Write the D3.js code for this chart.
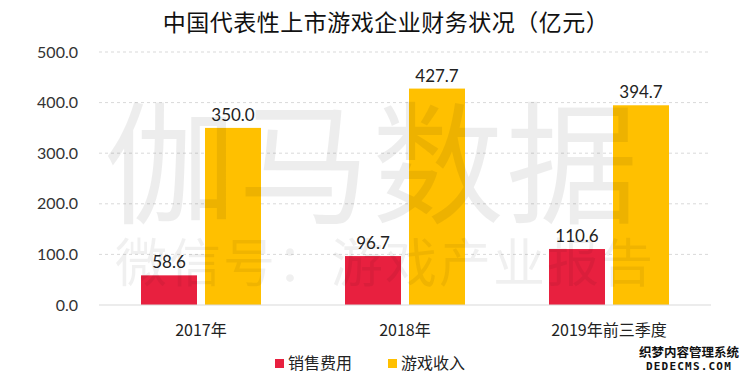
<!DOCTYPE html>
<html>
<head>
<meta charset="utf-8">
<script src="https://cdn.jsdelivr.net/npm/d3@7/dist/d3.min.js"></script>
<style>
  html, body { margin: 0; padding: 0; background: #fff; }
  svg { display: block; }
</style>
</head>
<body>
<svg id="chart" width="750" height="379"></svg>
<script>
const title = "中国代表性上市游戏企业财务状况（亿元）";
const categories = ["2017年", "2018年", "2019年前三季度"];
const seriesNames = ["销售费用", "游戏收入"];
const salesExpense = [58.6, 96.7, 110.6];
const gameRevenue = [350.0, 427.7, 394.7];
const yTicks = [0, 100, 200, 300, 400, 500];
const colors = ["#e8203f", "#ffc000"];

const svg = d3.select("#chart");
const plot = { left: 99, right: 711, top: 52, bottom: 305 };
const numFont = "Lato, 'Noto Sans CJK SC', sans-serif";
const cjkFont = "'Noto Sans CJK SC', 'Microsoft YaHei', sans-serif";

const x0 = d3.scaleBand().domain(categories).range([plot.left, plot.right]).padding(0);
const x1 = d3.scaleBand().domain(seriesNames).range([42, 162]).paddingInner(0.125).paddingOuter(0);
const y = d3.scaleLinear().domain([0, 500]).range([plot.bottom, plot.top]);

// title
svg.append("text")
  .attr("x", 386).attr("y", 31)
  .attr("text-anchor", "middle")
  .attr("font-family", cjkFont)
  .attr("font-size", 23)
  .attr("letter-spacing", 0.5)
  .attr("fill", "#111")
  .text(title);

// y axis labels
const yAxis = d3.axisLeft(y).tickValues(yTicks).tickFormat(d3.format(".1f")).tickSize(0).tickPadding(21);
const gAxis = svg.append("g").attr("transform", `translate(${plot.left},0)`).call(yAxis);
gAxis.select(".domain").remove();
gAxis.selectAll("text")
  .attr("font-family", numFont)
  .attr("font-size", 16)
  .attr("fill", "#333");

// gridlines
svg.append("g").selectAll("line")
  .data(yTicks.filter(d => d > 0))
  .join("line")
  .attr("x1", plot.left).attr("x2", plot.right)
  .attr("y1", d => y(d)).attr("y2", d => y(d))
  .attr("stroke", "#d9d9d9")
  .attr("stroke-width", 1)
  .attr("stroke-dasharray", "3,3");

// bars
const rows = categories.map((c, i) => ({ cat: c, vals: [salesExpense[i], gameRevenue[i]] }));
const groups = svg.append("g").selectAll("g")
  .data(rows)
  .join("g")
  .attr("transform", d => `translate(${x0(d.cat)},0)`);

groups.selectAll("rect")
  .data(d => d.vals.map((v, j) => ({ name: seriesNames[j], v, j })))
  .join("rect")
  .attr("x", d => x1(d.name))
  .attr("width", x1.bandwidth())
  .attr("y", d => y(d.v))
  .attr("height", d => y(0) - y(d.v))
  .attr("fill", d => colors[d.j]);

groups.selectAll("text.val")
  .data(d => d.vals.map((v, j) => ({ name: seriesNames[j], v, j })))
  .join("text")
  .attr("class", "val")
  .attr("x", d => x1(d.name) + x1.bandwidth() / 2)
  .attr("y", d => y(d.v) - 7)
  .attr("text-anchor", "middle")
  .attr("font-family", numFont)
  .attr("font-size", 17)
  .attr("fill", "#222")
  .text(d => d3.format(".1f")(d.v));

// baseline
svg.append("line")
  .attr("x1", plot.left).attr("x2", plot.right)
  .attr("y1", y(0)).attr("y2", y(0))
  .attr("stroke", "#d9d9d9").attr("stroke-width", 1);

// category labels
const xAxis = d3.axisBottom(x0).tickSize(0).tickPadding(20);
const gx = svg.append("g").attr("transform", `translate(0,${plot.bottom})`).call(xAxis);
gx.select(".domain").remove();
gx.selectAll("text")
  .attr("font-family", cjkFont)
  .attr("font-size", 16)
  .attr("fill", "#222");

// watermark
const wm = svg.append("g").attr("pointer-events", "none");
wm.append("text")
  .attr("x", 372).attr("y", 213)
  .attr("text-anchor", "middle")
  .attr("font-family", cjkFont)
  .attr("font-size", 132)
  .attr("letter-spacing", 2)
  .attr("fill", "#000").attr("fill-opacity", 0.07)
  .text("伽马数据");
wm.append("text")
  .attr("x", 385).attr("y", 282)
  .attr("text-anchor", "middle")
  .attr("font-family", cjkFont)
  .attr("font-size", 52)
  .attr("letter-spacing", 2)
  .attr("fill", "#000").attr("fill-opacity", 0.06)
  .text("微信号：游戏产业报告");

// legend
const legendItems = [
  { name: seriesNames[0], color: colors[0], x: 275 },
  { name: seriesNames[1], color: colors[1], x: 388 }
];
const lg = svg.append("g").selectAll("g").data(legendItems).join("g")
  .attr("transform", d => `translate(${d.x},359)`);
lg.append("rect").attr("width", 9).attr("height", 9).attr("fill", d => d.color);
lg.append("text")
  .attr("x", 13).attr("y", 10)
  .attr("font-family", cjkFont)
  .attr("font-size", 16)
  .attr("fill", "#222")
  .text(d => d.name);

// corner watermark
const cw = svg.append("g");
cw.append("text")
  .attr("x", 689).attr("y", 357)
  .attr("text-anchor", "middle")
  .attr("font-family", cjkFont).attr("font-weight", "bold")
  .attr("font-size", 12.5)
  .attr("paint-order", "stroke")
  .attr("fill", "#111").attr("stroke", "#fff").attr("stroke-width", 2)
  .text("织梦内容管理系统");
cw.append("text")
  .attr("x", 689).attr("y", 370)
  .attr("text-anchor", "middle")
  .attr("font-family", "'DejaVu Sans Mono', monospace").attr("font-weight", "bold")
  .attr("font-size", 11)
  .attr("letter-spacing", 1.2)
  .attr("paint-order", "stroke")
  .attr("fill", "#111").attr("stroke", "#fff").attr("stroke-width", 2)
  .text("DEDECMS.COM");
</script>
</body>
</html>
